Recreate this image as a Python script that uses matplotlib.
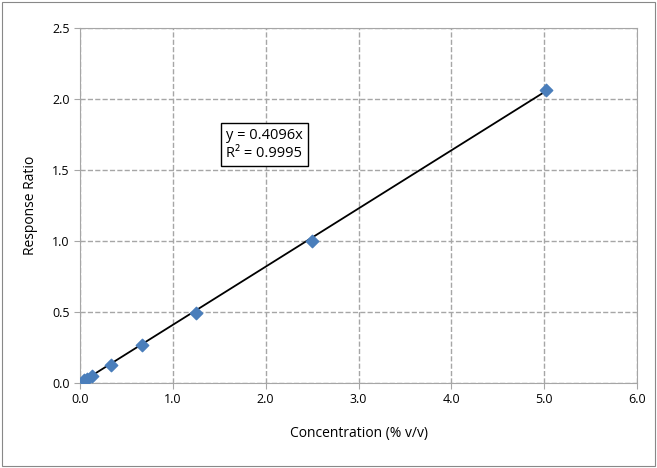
import numpy as np
import matplotlib.pyplot as plt
from matplotlib.patches import Rectangle

conc = [0.04, 0.08, 0.13, 0.33, 0.67, 1.25, 2.5, 5.02]
resp = [0.02, 0.03, 0.05, 0.13, 0.27, 0.49, 1.0, 2.06]
slope = 0.4096

plt.rcParams['font.family'] = ['Open Sans', 'DejaVu Sans']
fig = plt.figure(figsize=(6.57, 4.68), dpi=100)
ax = fig.add_axes([80/657, 1-383/468, 557/657, 355/468])
fig.patches.append(Rectangle((2/657, 2/468), 653/657, 464/468, transform=fig.transFigure,
                             fill=False, edgecolor='#888888', linewidth=0.8))

xl = np.array([0, 5.02])
ax.plot(xl, slope*xl, color='black', linewidth=1.3, zorder=2)
ax.scatter(conc, resp, marker='D', s=40, color='#4a7ebb', zorder=3)

ax.set_xlim(0, 6)
ax.set_ylim(0, 2.5)
ax.set_xticks(np.arange(0, 6.1, 1))
ax.set_xticklabels([f'{v:.1f}' for v in np.arange(0, 6.1, 1)])
ax.set_yticks(np.arange(0, 2.51, 0.5))
ax.set_yticklabels([f'{v:.1f}' for v in np.arange(0, 2.51, 0.5)])
ax.grid(True, linestyle='--', color='#a6a6a6', linewidth=1)
ax.tick_params(labelsize=9, length=4, color='#a6a6a6')
for s in ax.spines.values():
    s.set_color('#a6a6a6')
ax.set_xlabel('Concentration (% v/v)', fontsize=10, labelpad=14)
ax.set_ylabel('Response Ratio', fontsize=10, labelpad=10)
ax.text(1.57, 1.68, 'y = 0.4096x\nR² = 0.9995', fontsize=10.5, va='center',
        bbox=dict(facecolor='white', edgecolor='black', boxstyle='square,pad=0.35'))
fig.savefig('out.png', dpi=100)
